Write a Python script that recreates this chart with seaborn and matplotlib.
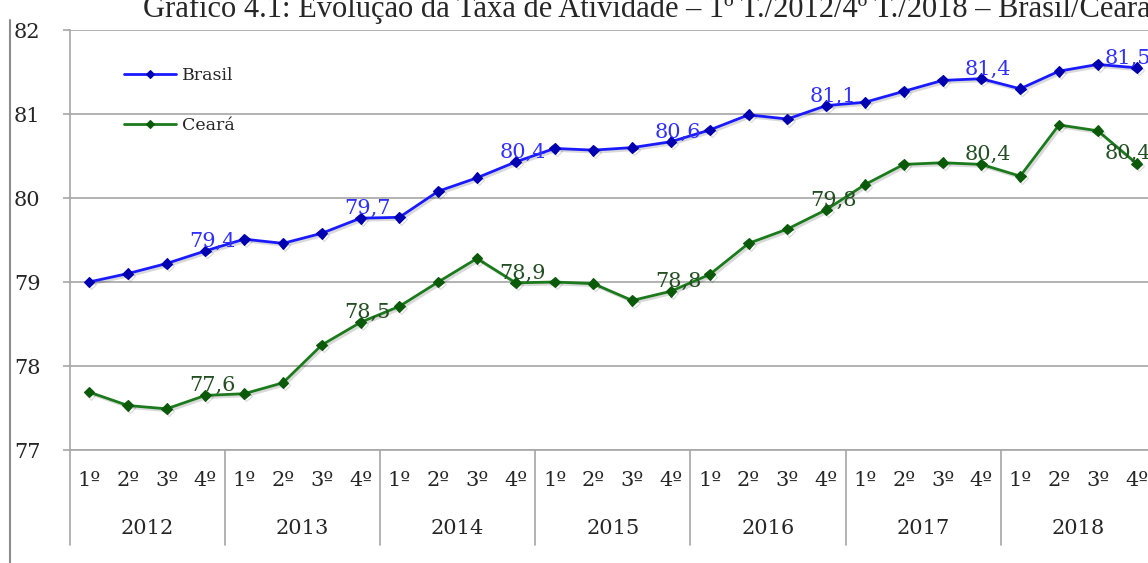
import numpy as np
import pandas as pd
import seaborn as sns
import matplotlib.pyplot as plt
import matplotlib.transforms as mtransforms
from matplotlib.lines import Line2D
from matplotlib import patheffects as pe


# --- Taxa de atividade trimestral, Brasil x Ceará ---

anos = ['2012', '2013', '2014', '2015', '2016', '2017', '2018']
trimestres = ['1º', '2º', '3º', '4º']

brasil = [79.00, 79.10, 79.22, 79.37, 79.51, 79.46, 79.58, 79.76,
          79.77, 80.08, 80.24, 80.43, 80.59, 80.57, 80.60, 80.67,
          80.81, 80.99, 80.94, 81.10, 81.14, 81.27, 81.40, 81.42,
          81.30, 81.51, 81.59, 81.55]
ceara = [77.69, 77.53, 77.49, 77.65, 77.67, 77.80, 78.25, 78.52,
         78.71, 79.00, 79.28, 78.99, 79.00, 78.98, 78.78, 78.89,
         79.09, 79.46, 79.63, 79.86, 80.16, 80.40, 80.42, 80.40,
         80.26, 80.87, 80.80, 80.41]

# rótulos exibidos no 4º trimestre de cada ano
rotulos_brasil = ['79,4', '79,7', '80,4', '80,6', '81,1', '81,4', '81,5']
rotulos_ceara = ['77,6', '78,5', '78,9', '78,8', '79,8', '80,4', '80,4']

titulo = ('Gráfico 4.1: Evolução da Taxa de Atividade – 1º T./2012/4º T./2018'
          ' – Brasil/Ceará')

sns.set_style('white')
plt.rcParams['font.family'] = ['DejaVu Serif']

W, H = 1148, 563
fig = plt.figure(figsize=(W / 100, H / 100), dpi=100)
ax = fig.add_axes([69.6 / W, 113 / H, 1086.4 / W, 420 / H])

pos = np.arange(len(anos) * len(trimestres))
df = pd.DataFrame({'pos': pos, 'Brasil': brasil, 'Ceará': ceara})

sombra = [pe.SimpleLineShadow(offset=(1.5, -1.5), shadow_color='k', alpha=0.15),
          pe.Normal()]

cores = {'Brasil': ('#1a1aff', '#0000b0', '#3030ff'),
         'Ceará': ('#1b7a1b', '#0a5a0a', '#234f23')}

for serie in ['Brasil', 'Ceará']:
    linha, marc, _ = cores[serie]
    sns.lineplot(data=df, x='pos', y=serie, ax=ax, color=linha, lw=2,
                 marker='D', markersize=5.5, markerfacecolor=marc,
                 markeredgecolor=marc, markeredgewidth=0.8, label=serie,
                 path_effects=sombra)

# rótulos de dados (o último fica recuado para caber na área do gráfico)
idx = pos[len(trimestres) - 1::len(trimestres)]
for serie, rotulos in [('Brasil', rotulos_brasil), ('Ceará', rotulos_ceara)]:
    cor = cores[serie][2]
    for i, txt in zip(idx, rotulos):
        dx = -6 if i == pos[-1] else 5
        ax.annotate(txt, (pos[i], df[serie][i]), xytext=(dx, 3),
                    textcoords='offset points', ha='center', va='baseline',
                    fontsize=15, color=cor)

ax.set_xlim(-0.5, len(pos) - 0.5)
ax.set_ylim(77, 82)
ax.set_yticks(range(77, 83))
ax.set_xticks(pos)
ax.set_xticklabels(trimestres * len(anos))
ax.set(xlabel='', ylabel='')

cinza = '#a6a6a6'
ax.yaxis.grid(True, color=cinza, lw=1.2)
ax.xaxis.grid(False)
for s in ['top', 'right']:
    ax.spines[s].set_visible(False)
for s in ['left', 'bottom']:
    ax.spines[s].set_color(cinza)
    ax.spines[s].set_linewidth(1.2)

ax.tick_params(axis='y', length=5, width=1.2, color=cinza, pad=16,
               labelsize=15, left=True)
ax.tick_params(axis='x', length=0, pad=15, labelsize=15)

# eixo de categorias em dois níveis
trans = mtransforms.blended_transform_factory(ax.transData, ax.transAxes)
for k, ano in enumerate(anos):
    centro = k * len(trimestres) + (len(trimestres) - 1) / 2
    ax.text(centro, -0.188, ano, transform=trans, ha='center', va='center',
            fontsize=15)
for k in range(len(anos) + 1):
    x0 = k * len(trimestres) - 0.5
    ax.plot([x0, x0], [0, -0.226], transform=trans, color=cinza, lw=1.2,
            clip_on=False)

leg = ax.legend(loc='upper left', bbox_to_anchor=(0.05, 0.911), frameon=False,
                fontsize=12.5, handlelength=3.0, handletextpad=0.35,
                labelspacing=1.9, borderaxespad=0, borderpad=0)
for h in leg.get_lines():
    h.set_markersize(4)
    h.set_path_effects([])

fig.text(143 / W, 1 - 17 / H, titulo, ha='left', va='baseline', fontsize=22,
         family=['Liberation Serif', 'DejaVu Serif'])

fig.add_artist(Line2D([10 / W, 10 / W], [0, 1 - 20 / H], color='#8c8c8c',
                      lw=1.5))

fig.savefig('out.png', dpi=100)
